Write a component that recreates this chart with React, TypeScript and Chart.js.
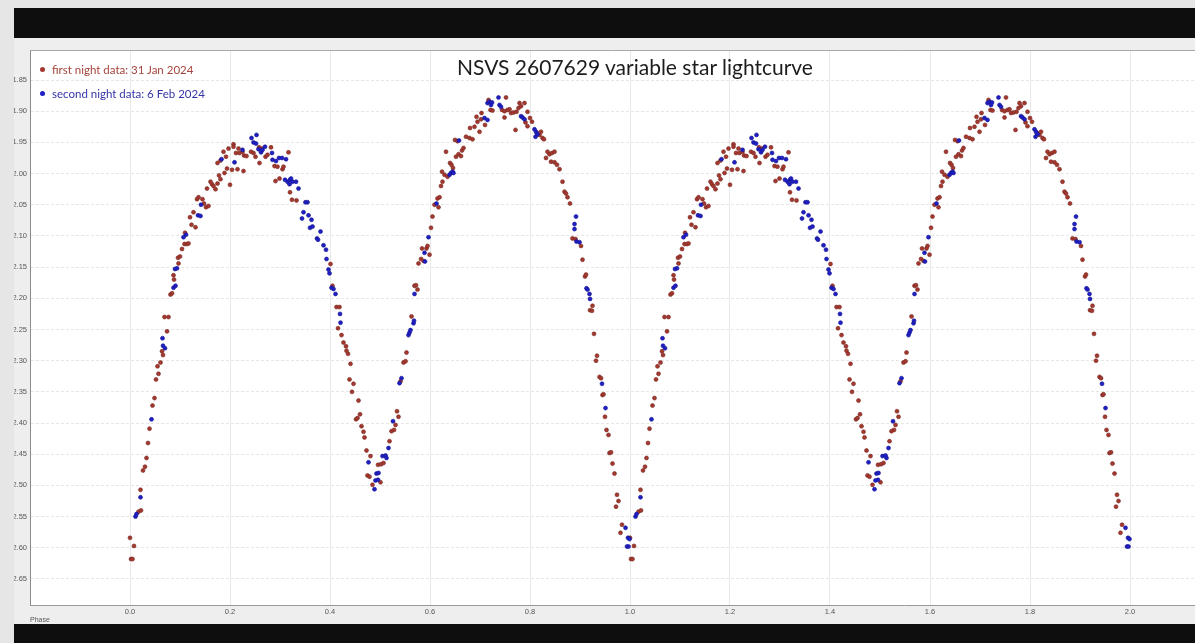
import React, { useEffect, useRef } from 'react';
import { Chart, registerables } from 'chart.js';

Chart.register(...registerables);

// ---- data (phase 0..1; the plot shows every point again at phase + 1) ----
const firstNightPhase = [
  0.000, 0.002, 0.005, 0.008, 0.017, 0.021, 0.022, 0.026, 0.030, 0.033,
  0.036, 0.039, 0.045, 0.049, 0.052, 0.055, 0.057, 0.061, 0.064, 0.066,
  0.069, 0.074, 0.077, 0.081, 0.084, 0.087, 0.088, 0.096, 0.097, 0.100,
  0.104, 0.109, 0.110, 0.114, 0.117, 0.120, 0.123, 0.127, 0.131, 0.134,
  0.137, 0.145, 0.148, 0.152, 0.154, 0.157, 0.161, 0.164, 0.167, 0.171,
  0.175, 0.175, 0.178, 0.181, 0.181, 0.187, 0.189, 0.192, 0.194, 0.197,
  0.200, 0.204, 0.207, 0.207, 0.212, 0.215, 0.217, 0.219, 0.225, 0.227,
  0.228, 0.233, 0.242, 0.247, 0.251, 0.258, 0.259, 0.264, 0.271, 0.275,
  0.282, 0.289, 0.291, 0.295, 0.299, 0.305, 0.307, 0.317, 0.320, 0.324,
  0.333, 0.401, 0.405, 0.413, 0.416, 0.419, 0.423, 0.427, 0.432, 0.433,
  0.436, 0.439, 0.441, 0.444, 0.447, 0.452, 0.455, 0.457, 0.460, 0.463,
  0.467, 0.469, 0.473, 0.475, 0.479, 0.481, 0.485, 0.496, 0.501, 0.502,
  0.507, 0.519, 0.523, 0.528, 0.531, 0.534, 0.537, 0.541, 0.547, 0.551,
  0.553, 0.563, 0.569, 0.572, 0.575, 0.577, 0.582, 0.584, 0.587, 0.593,
  0.595, 0.599, 0.602, 0.605, 0.609, 0.615, 0.617, 0.619, 0.622, 0.624,
  0.625, 0.629, 0.632, 0.635, 0.640, 0.643, 0.646, 0.650, 0.652, 0.655,
  0.657, 0.662, 0.664, 0.667, 0.672, 0.679, 0.680, 0.685, 0.689, 0.693,
  0.695, 0.699, 0.702, 0.703, 0.710, 0.717, 0.721, 0.725, 0.744, 0.749,
  0.749, 0.752, 0.755, 0.759, 0.762, 0.767, 0.771, 0.773, 0.777, 0.779,
  0.782, 0.789, 0.791, 0.795, 0.795, 0.800, 0.804, 0.814, 0.819, 0.822,
  0.825, 0.828, 0.832, 0.835, 0.839, 0.842, 0.844, 0.849, 0.849, 0.854,
  0.859, 0.865, 0.869, 0.872, 0.875, 0.880, 0.885, 0.891, 0.902, 0.905,
  0.910, 0.912, 0.920, 0.924, 0.925, 0.928, 0.932, 0.934, 0.939, 0.942,
  0.945, 0.947, 0.950, 0.953, 0.957, 0.959, 0.962, 0.965, 0.969, 0.972,
  0.974, 0.977, 0.981, 0.984,
];
const firstNightMag = [
  2.584, 2.618, 2.618, 2.597, 2.542, 2.507, 2.540, 2.476, 2.470, 2.456,
  2.432, 2.409, 2.372, 2.360, 2.330, 2.309, 2.321, 2.303, 2.285, 2.291,
  2.230, 2.253, 2.230, 2.194, 2.192, 2.163, 2.170, 2.135, 2.144, 2.133,
  2.121, 2.113, 2.095, 2.113, 2.112, 2.070, 2.082, 2.062, 2.086, 2.041,
  2.038, 2.041, 2.048, 2.054, 2.024, 2.052, 2.013, 2.017, 2.020, 2.025,
  2.016, 1.983, 2.003, 2.009, 1.979, 1.965, 1.999, 1.973, 1.992, 1.960,
  2.018, 1.994, 1.953, 1.957, 1.967, 1.993, 1.960, 1.967, 1.965, 1.996,
  1.971, 1.972, 1.965, 1.967, 1.973, 1.958, 1.983, 1.960, 1.973, 1.970,
  1.958, 1.988, 2.012, 1.989, 2.008, 1.993, 1.989, 1.966, 2.030, 2.042,
  2.043, 2.145, 2.180, 2.214, 2.248, 2.214, 2.259, 2.271, 2.277, 2.284,
  2.289, 2.330, 2.305, 2.350, 2.337, 2.394, 2.392, 2.364, 2.386, 2.405,
  2.414, 2.423, 2.444, 2.484, 2.486, 2.453, 2.499, 2.467, 2.495, 2.466,
  2.464, 2.429, 2.413, 2.411, 2.403, 2.381, 2.390, 2.333, 2.303, 2.301,
  2.287, 2.229, 2.180, 2.179, 2.186, 2.144, 2.137, 2.120, 2.140, 2.120,
  2.116, 2.130, 2.087, 2.069, 2.050, 2.040, 2.054, 2.038, 2.020, 1.997,
  2.013, 2.002, 1.965, 2.005, 1.983, 1.986, 1.991, 1.946, 1.973, 1.948,
  1.969, 1.972, 1.963, 1.959, 1.941, 1.943, 1.927, 1.945, 1.925, 1.909,
  1.917, 1.933, 1.913, 1.903, 1.922, 1.882, 1.898, 1.899, 1.898, 1.900,
  1.910, 1.878, 1.898, 1.897, 1.903, 1.902, 1.930, 1.901, 1.895, 1.887,
  1.892, 1.887, 1.918, 1.901, 1.924, 1.911, 1.917, 1.935, 1.938, 1.933,
  1.943, 1.945, 1.975, 1.965, 1.969, 1.981, 1.967, 1.965, 1.982, 1.986,
  1.993, 2.013, 2.029, 2.032, 2.038, 2.048, 2.104, 2.105, 2.116, 2.138,
  2.165, 2.162, 2.219, 2.220, 2.212, 2.257, 2.300, 2.292, 2.326, 2.328,
  2.355, 2.354, 2.390, 2.411, 2.419, 2.448, 2.447, 2.465, 2.481, 2.534,
  2.515, 2.525, 2.576, 2.563,
];
const secondNightPhase = [
  0.011, 0.013, 0.021, 0.043, 0.065, 0.066, 0.070, 0.087, 0.090, 0.091,
  0.094, 0.107, 0.112, 0.136, 0.141, 0.142, 0.183, 0.209, 0.225, 0.243,
  0.247, 0.252, 0.253, 0.257, 0.262, 0.265, 0.270, 0.284, 0.285, 0.292,
  0.298, 0.304, 0.310, 0.312, 0.315, 0.319, 0.320, 0.322, 0.325, 0.332,
  0.337, 0.344, 0.347, 0.351, 0.355, 0.357, 0.360, 0.363, 0.365, 0.374,
  0.376, 0.381, 0.387, 0.392, 0.393, 0.397, 0.399, 0.403, 0.407, 0.411,
  0.420, 0.421, 0.477, 0.489, 0.491, 0.493, 0.496, 0.497, 0.505, 0.511,
  0.513, 0.517, 0.526, 0.539, 0.543, 0.557, 0.559, 0.561, 0.567, 0.568,
  0.569, 0.589, 0.590, 0.597, 0.613, 0.639, 0.642, 0.645, 0.647, 0.658,
  0.709, 0.715, 0.715, 0.719, 0.722, 0.724, 0.737, 0.739, 0.742, 0.782,
  0.785, 0.789, 0.809, 0.811, 0.812, 0.815, 0.889, 0.889, 0.892, 0.893,
  0.899, 0.913, 0.915, 0.919, 0.920, 0.944, 0.951, 0.991, 0.994, 0.996,
  0.997, 0.999,
];
const secondNightMag = [
  2.550, 2.546, 2.519, 2.394, 2.264, 2.276, 2.280, 2.183, 2.153, 2.180,
  2.152, 2.102, 2.098, 2.067, 2.068, 2.050, 1.977, 1.982, 1.962, 1.943,
  1.950, 1.952, 1.938, 1.961, 1.966, 1.962, 1.957, 1.967, 1.978, 1.980,
  1.975, 1.975, 2.010, 1.977, 2.013, 2.017, 2.010, 2.008, 2.013, 2.013,
  2.024, 2.072, 2.062, 2.046, 2.046, 2.067, 2.087, 2.074, 2.085, 2.104,
  2.106, 2.093, 2.115, 2.122, 2.137, 2.154, 2.160, 2.183, 2.185, 2.193,
  2.225, 2.239, 2.463, 2.506, 2.492, 2.481, 2.491, 2.480, 2.453, 2.452,
  2.456, 2.440, 2.397, 2.336, 2.328, 2.259, 2.255, 2.251, 2.240, 2.236,
  2.193, 2.127, 2.141, 2.102, 2.048, 2.002, 1.999, 1.997, 1.999, 1.947,
  1.911, 1.914, 1.887, 1.885, 1.890, 1.886, 1.878, 1.890, 1.893, 1.908,
  1.910, 1.913, 1.929, 1.941, 1.933, 1.937, 2.081, 2.089, 2.069, 2.109,
  2.110, 2.184, 2.186, 2.193, 2.201, 2.337, 2.376, 2.568, 2.598, 2.584,
  2.598, 2.586,
];

const cycles = [0, 1];
const xMin = -0.2;
const xMax = 2.13;
const xStep = 0.2;
const yMin = 1.8035;
const yMax = 2.6917;
const yStep = 0.05;

const titleText = 'NSVS 2607629 variable star lightcurve';
const firstLabel = 'first night data: 31 Jan 2024';
const secondLabel = 'second night data: 6 Feb 2024';
const xTitle = 'Phase';

const RED = '#a3382f';
const RED_EDGE = '#7a2a24';
const BLUE = '#1f1fc4';
const BLUE_EDGE = '#151590';

function toPoints(phase: number[], mag: number[]) {
  const pts: { x: number; y: number }[] = [];
  cycles.forEach((c) => {
    phase.forEach((p, i) => pts.push({ x: p + c, y: mag[i] }));
  });
  return pts;
}

const plotBackground = {
  id: 'plotBackground',
  beforeDraw(chart: any) {
    const { ctx, chartArea } = chart;
    const { left, top, right, bottom } = chartArea;
    ctx.save();
    ctx.fillStyle = '#ffffff';
    ctx.fillRect(left, top, right - left, bottom - top);
    ctx.strokeStyle = '#a8a8a8';
    ctx.lineWidth = 1;
    ctx.beginPath();
    ctx.moveTo(left, top - 0.5);
    ctx.lineTo(right, top - 0.5);
    ctx.stroke();
    ctx.restore();
  },
};

export default function App() {
  const canvasRef = useRef<HTMLCanvasElement | null>(null);

  useEffect(() => {
    if (!canvasRef.current) return;
    const chart = new Chart(canvasRef.current, {
      type: 'scatter',
      data: {
        datasets: [
          {
            label: secondLabel,
            data: toPoints(secondNightPhase, secondNightMag),
            backgroundColor: BLUE,
            borderColor: BLUE_EDGE,
            borderWidth: 0.6,
            pointRadius: 2,
          },
          {
            label: firstLabel,
            data: toPoints(firstNightPhase, firstNightMag),
            backgroundColor: RED,
            borderColor: RED_EDGE,
            borderWidth: 0.6,
            pointRadius: 2,
          },
        ],
      },
      options: {
        animation: false,
        responsive: false,
        devicePixelRatio: 1,
        layout: { autoPadding: false, padding: { top: 13, left: 0, right: 0, bottom: 0 } },
        plugins: {
          legend: { display: false },
          tooltip: { enabled: false },
          title: { display: false },
        },
        scales: {
          x: {
            type: 'linear',
            min: xMin,
            max: xMax,
            afterFit: (s: any) => {
              s.height = 19;
            },
            ticks: {
              stepSize: xStep,
              includeBounds: false,
              autoSkip: false,
              maxRotation: 0,
              padding: 2,
              color: '#555555',
              font: { family: 'Liberation Sans', size: 7.5 },
              callback: (v: any) => (Number(v) < -0.001 ? '' : Number(v).toFixed(1)),
            },
            grid: { color: '#e9e9e9', drawTicks: false, lineWidth: 1 },
            border: { color: '#9a9a9a', width: 1 },
            title: {
              display: true,
              text: xTitle,
              align: 'start',
              color: '#555555',
              font: { family: 'Liberation Sans', size: 7 },
              padding: 0,
            },
          },
          y: {
            type: 'linear',
            reverse: true,
            min: yMin,
            max: yMax,
            afterFit: (s: any) => {
              s.width = 16;
            },
            ticks: {
              stepSize: yStep,
              includeBounds: false,
              autoSkip: false,
              padding: 3,
              color: '#555555',
              font: { family: 'Liberation Sans', size: 7.5 },
              callback: (v: any) => Number(v).toFixed(2),
            },
            grid: { color: '#e6e6e6', drawTicks: false, lineWidth: 1 },
            border: { color: '#8c8c8c', width: 1, dash: [3, 2] },
          },
        },
      },
      plugins: [plotBackground],
    });
    return () => chart.destroy();
  }, []);

  return (
    <div
      style={{
        position: 'fixed',
        left: 0,
        top: 0,
        width: 1195,
        height: 643,
        background: '#e6e6e6',
        overflow: 'hidden',
      }}
    >
      <div style={{ position: 'absolute', left: 14, top: 8, width: 1181, height: 30, background: '#0e0e0e' }} />
      <div style={{ position: 'absolute', left: 14, top: 38, width: 1181, height: 586, background: '#eeeeee', overflow: 'hidden' }}>
        <canvas ref={canvasRef} width={1181} height={586} style={{ display: 'block', width: 1181, height: 586 }} />
      </div>
      <div style={{ position: 'absolute', left: 14, top: 624, width: 1181, height: 19, background: '#0e0e0e' }} />
      <div
        style={{
          position: 'absolute',
          left: 635,
          top: 56.4,
          transform: 'translateX(-50%)',
          whiteSpace: 'nowrap',
          fontFamily: 'Lato, sans-serif',
          fontSize: 21,
          lineHeight: '21px',
          color: '#1c1c1c',
        }}
      >
        {titleText}
      </div>
      {[
        { label: firstLabel, color: RED, text: '#a5443c', top: 63.6 },
        { label: secondLabel, color: BLUE, text: '#3434a8', top: 87.8 },
      ].map((it) => (
        <div
          key={it.label}
          style={{
            position: 'absolute',
            left: 40,
            top: it.top,
            whiteSpace: 'nowrap',
            fontFamily: 'Lato, sans-serif',
            fontSize: 11.5,
            lineHeight: '12px',
            color: it.text,
            display: 'flex',
            alignItems: 'center',
          }}
        >
          <span
            style={{
              display: 'inline-block',
              width: 5,
              height: 5,
              borderRadius: '50%',
              background: it.color,
              marginRight: 7,
            }}
          />
          <span>{it.label}</span>
        </div>
      ))}
    </div>
  );
}
